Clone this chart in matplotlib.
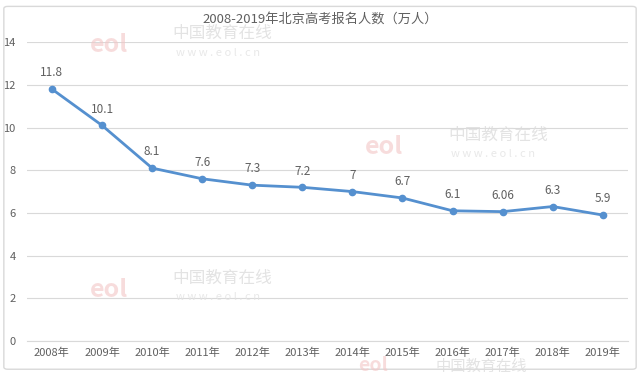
import matplotlib
matplotlib.use("Agg")
import matplotlib.pyplot as plt
from matplotlib.patches import FancyBboxPatch

plt.rcParams['font.family'] = ['Noto Sans CJK SC', 'DejaVu Sans']

years = ["2008年", "2009年", "2010年", "2011年", "2012年", "2013年",
         "2014年", "2015年", "2016年", "2017年", "2018年", "2019年"]
values = [11.8, 10.1, 8.1, 7.6, 7.3, 7.2, 7, 6.7, 6.1, 6.06, 6.3, 5.9]
labels = ["11.8", "10.1", "8.1", "7.6", "7.3", "7.2", "7", "6.7", "6.1", "6.06", "6.3", "5.9"]
yticks = [0, 2, 4, 6, 8, 10, 12, 14]

text_col = "#606060"
line_col = "#5590cf"

fig = plt.figure(figsize=(6.4, 3.76), dpi=100)
fig.patches.append(FancyBboxPatch((0.006, 0.018), 0.988, 0.965,
                                  boxstyle="round,pad=0,rounding_size=0.006",
                                  transform=fig.transFigure, fill=False,
                                  edgecolor="#d9d9d9", linewidth=1.0))

ax = fig.add_axes([0.042, 0.093, 0.939, 0.795])

# faint watermarks
for (wx, wy) in [(0.27, 0.91), (0.70, 0.64), (0.27, 0.26)]:
    fig.text(wx - 0.13, wy - 0.03, "eol", fontsize=18, fontweight="bold", style="italic",
             color="#f3c6c6", alpha=0.6, ha="left", va="center")
    fig.text(wx, wy, "中国教育在线", fontsize=12, color="#dcdcdc", alpha=0.8,
             ha="left", va="center")
    fig.text(wx + 0.005, wy - 0.05, "w w w . e o l . c n", fontsize=8, color="#e3e3e3",
             alpha=0.8, ha="left", va="center")
fig.text(0.56, 0.002, "eol", fontsize=14, fontweight="bold", style="italic",
         color="#f3c6c6", alpha=0.6, ha="left", va="bottom")
fig.text(0.68, 0.002, "中国教育在线", fontsize=11, color="#dcdcdc", alpha=0.8,
         ha="left", va="bottom")

x = list(range(len(years)))
ax.plot(x, values, color=line_col, linewidth=2, marker="o", markersize=4.5, zorder=3)
for xi, v, lab in zip(x, values, labels):
    ax.annotate(lab, (xi, v), textcoords="offset points", xytext=(0, 7),
                ha="center", va="bottom", fontsize=8.5, color=text_col)

ax.set_xlim(-0.5, len(years) - 0.5)
ax.set_ylim(0, 14)
ax.set_yticks(yticks)
ax.set_xticks(x)
ax.set_xticklabels(years)
ax.tick_params(axis="both", length=0, labelsize=8, colors=text_col)
ax.tick_params(axis="y", pad=8)
ax.tick_params(axis="x", pad=5)
ax.grid(axis="y", color="#d9d9d9", linewidth=0.8)
ax.set_axisbelow(True)
for s in ["top", "right", "left"]:
    ax.spines[s].set_visible(False)
ax.spines["bottom"].set_color("#d9d9d9")

fig.text(0.5, 0.950, "2008-2019年北京高考报名人数（万人）", ha="center", va="center",
         fontsize=9.5, color=text_col)

fig.savefig("out.png", dpi=100)
